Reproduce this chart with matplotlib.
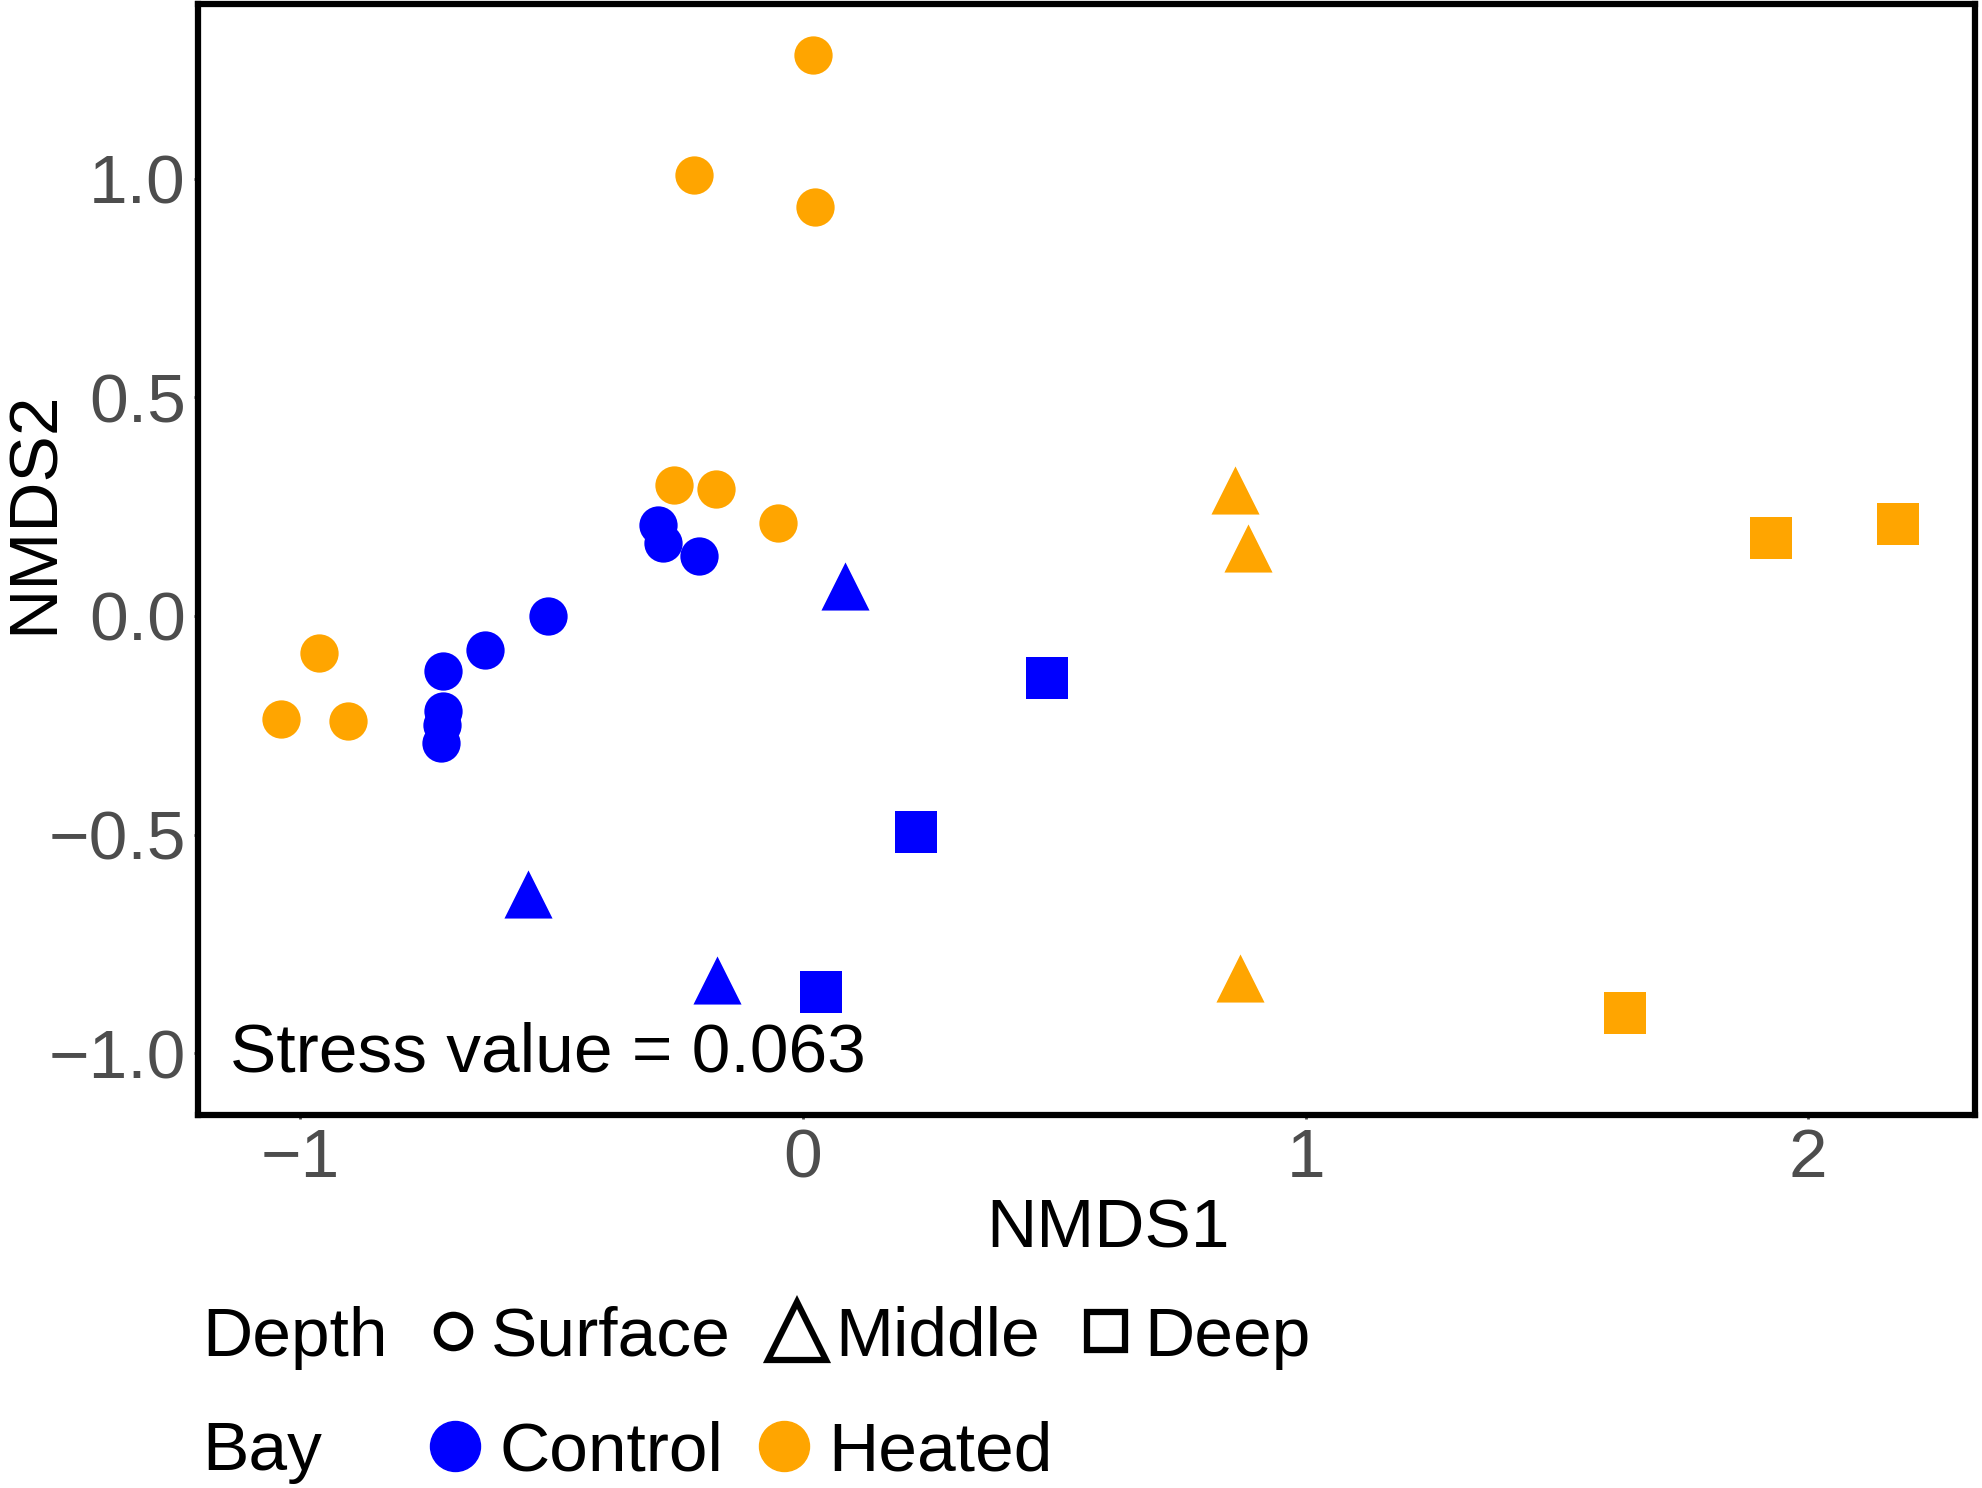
import matplotlib
matplotlib.use('Agg')
import matplotlib.pyplot as plt
from matplotlib.lines import Line2D

plt.rcParams['font.family'] = ['Liberation Sans', 'DejaVu Sans']

# NMDS scores
ctrl_surf_x = [-0.288, -0.279, -0.206, -0.507, -0.633, -0.717, -0.717, -0.718, -0.720]
ctrl_surf_y = [0.207, 0.166, 0.136, 0.000, -0.078, -0.126, -0.217, -0.250, -0.290]
heat_surf_x = [0.020, -0.216, 0.023, -0.257, -0.173, -0.049, -0.962, -1.038, -0.906]
heat_surf_y = [1.283, 1.009, 0.934, 0.300, 0.290, 0.213, -0.085, -0.235, -0.240]
ctrl_mid_x = [0.083, -0.548, -0.171]
ctrl_mid_y = [0.069, -0.636, -0.832]
heat_mid_x = [0.860, 0.886, 0.870]
heat_mid_y = [0.289, 0.156, -0.827]
ctrl_deep_x = [0.486, 0.224, 0.035]
ctrl_deep_y = [-0.142, -0.494, -0.861]
heat_deep_x = [1.925, 2.179, 1.635]
heat_deep_y = [0.179, 0.211, -0.908]

xticks = [-1, 0, 1, 2]
yticks = [-1.0, -0.5, 0.0, 0.5, 1.0]
stress = 0.063

blue = '#0000FF'
orange = '#FFA500'
fs = 50

fig = plt.figure(figsize=(19.83, 14.88), dpi=100)
ax = fig.add_axes([0.100, 0.251, 0.896, 0.746])

ax.scatter(ctrl_surf_x, ctrl_surf_y, marker='o', s=760, color=blue, lw=0, zorder=3)
ax.scatter(heat_surf_x, heat_surf_y, marker='o', s=760, color=orange, lw=0, zorder=3)
ax.scatter(ctrl_mid_x, ctrl_mid_y, marker='^', s=1200, color=blue, lw=0, zorder=3)
ax.scatter(heat_mid_x, heat_mid_y, marker='^', s=1200, color=orange, lw=0, zorder=3)
ax.scatter(ctrl_deep_x, ctrl_deep_y, marker='s', s=900, color=blue, lw=0, zorder=3)
ax.scatter(heat_deep_x, heat_deep_y, marker='s', s=900, color=orange, lw=0, zorder=3)

ax.set_xlim(-1.203, 2.332)
ax.set_ylim(-1.140, 1.398)
ax.set_xticks(xticks)
ax.set_xticklabels(['\u22121', '0', '1', '2'])
ax.set_yticks(yticks)
ax.set_yticklabels(['\u22121.0', '\u22120.5', '0.0', '0.5', '1.0'])
ax.tick_params(labelsize=fs, colors='#4D4D4D', length=3, width=2, pad=6)
for sp in ax.spines.values():
    sp.set_linewidth(4.5)
    sp.set_color('black')

ax.set_xlabel('NMDS1', fontsize=fs)
ax.set_ylabel('NMDS2', fontsize=fs)
ax.xaxis.set_label_coords(0.512, -0.075)
ax.yaxis.set_label_coords(-0.074, 0.543)

ax.text(-1.14, -1.0, 'Stress value = {}'.format(stress), fontsize=fs,
        ha='left', va='center', color='black')

# legends
fig.text(0.102, 0.101, 'Depth', fontsize=fs, ha='left', va='center')
fig.text(0.102, 0.024, 'Bay', fontsize=fs, ha='left', va='center')

depth_handles = [
    Line2D([], [], marker='o', ls='', markersize=24, markerfacecolor='none',
           markeredgecolor='black', markeredgewidth=4.5),
    Line2D([], [], marker='^', ls='', markersize=42, markerfacecolor='none',
           markeredgecolor='black', markeredgewidth=4.5),
    Line2D([], [], marker='s', ls='', markersize=27, markerfacecolor='none',
           markeredgecolor='black', markeredgewidth=4.5),
]
bay_handles = [
    Line2D([], [], marker='o', ls='', markersize=36, color=blue),
    Line2D([], [], marker='o', ls='', markersize=36, color=orange),
]
leg1 = fig.legend(depth_handles, ['Surface', 'Middle', 'Deep'], ncol=3,
                  loc='center left', bbox_to_anchor=(0.2143, 0.101), frameon=False,
                  fontsize=fs, handlelength=0.8, handletextpad=0.15,
                  columnspacing=0.55, borderpad=0, borderaxespad=0)
leg2 = fig.legend(bay_handles, ['Control', 'Heated'], ncol=2,
                  loc='center left', bbox_to_anchor=(0.2156, 0.024), frameon=False,
                  fontsize=fs, handlelength=0.8, handletextpad=0.24,
                  columnspacing=0.47, borderpad=0, borderaxespad=0)

fig.savefig('out.png', dpi=100)
